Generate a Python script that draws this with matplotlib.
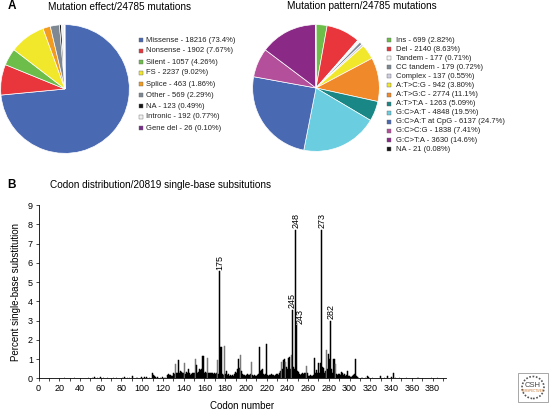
import matplotlib
matplotlib.use("Agg")
import matplotlib.pyplot as plt
from matplotlib.patches import Rectangle, Ellipse

plt.rcParams['font.family'] = ['Liberation Sans', 'DejaVu Sans']

# Panel A, left pie: mutation effect
effect_labels = ["Missense", "Nonsense", "Silent", "FS", "Splice", "Other", "NA", "Intronic", "Gene del"]
effect_counts = [18216, 1902, 1057, 2237, 463, 569, 123, 192, 26]
effect_pcts = ["73.4%", "7.67%", "4.26%", "9.02%", "1.86%", "2.29%", "0.49%", "0.77%", "0.10%"]

# Panel A, right pie: mutation pattern
pattern_labels = ["Ins", "Del", "Tandem", "CC tandem", "Complex", "A:T>C:G", "A:T>G:C", "A:T>T:A",
                  "G:C>A:T", "G:C>A:T at CpG", "G:C>C:G", "G:C>T:A", "NA"]
pattern_counts = [699, 2140, 177, 179, 137, 942, 2774, 1263, 4848, 6137, 1838, 3630, 21]
pattern_pcts = ["2.82%", "8.63%", "0.71%", "0.72%", "0.55%", "3.80%", "11.1%", "5.09%",
                "19.5%", "24.7%", "7.41%", "14.6%", "0.08%"]

# Panel B: percent single-base substitutions per codon
codons = [25, 35, 48, 52, 54, 57, 60, 63, 67, 72, 75, 81, 83, 86, 88, 91, 95, 99, 102, 104,
          107, 110, 111, 112, 113, 115, 118, 120, 122, 124, 125, 126, 127, 128, 129, 130,
          131, 132, 133, 134, 135, 136, 137, 138, 139, 140, 141, 142, 143, 144, 145, 146,
          147, 148, 149, 150, 151, 152, 153, 154, 155, 156, 157, 158, 159, 160, 161, 162,
          163, 164, 165, 166, 167, 168, 169, 170, 171, 172, 173, 174, 175, 176, 177, 178,
          179, 180, 181, 182, 183, 184, 185, 186, 187, 188, 189, 190, 191, 192, 193, 194,
          195, 196, 197, 198, 199, 200, 201, 202, 203, 204, 205, 206, 207, 208, 209, 210,
          211, 212, 213, 214, 215, 216, 217, 218, 219, 220, 221, 222, 223, 224, 225, 226,
          227, 228, 229, 230, 231, 232, 233, 234, 235, 236, 237, 238, 239, 240, 241, 242,
          243, 244, 245, 246, 247, 248, 249, 250, 251, 252, 253, 254, 255, 256, 257, 258,
          259, 260, 261, 262, 263, 264, 265, 266, 267, 268, 269, 270, 271, 272, 273, 274,
          275, 276, 277, 278, 279, 280, 281, 282, 283, 284, 285, 286, 287, 288, 289, 290,
          291, 292, 293, 294, 295, 296, 297, 298, 299, 300, 301, 302, 303, 304, 305, 306,
          307, 308, 309, 312, 315, 317, 318, 322, 330, 334, 337, 340, 342, 344, 348, 355,
          366, 379, 385]
percents = [0.02, 0.02, 0.03, 0.04, 0.08, 0.03, 0.05, 0.03, 0.04, 0.03, 0.04, 0.03, 0.05, 0.03, 0.04, 0.10, 0.03, 0.06, 0.05, 0.07,
            0.04, 0.25, 0.15, 0.12, 0.08, 0.05, 0.03, 0.05, 0.04, 0.15, 0.20, 0.18, 0.15, 0.10, 0.12, 0.25,
            0.20, 0.75, 0.30, 0.25, 0.95, 0.30, 0.40, 0.35, 0.25, 0.30, 0.80, 0.20, 0.35, 0.25, 0.50, 0.30,
            0.15, 0.20, 0.30, 0.25, 1.00, 0.70, 0.30, 0.35, 0.50, 0.45, 0.50, 1.17, 1.17, 0.30, 0.35, 0.25,
            1.04, 0.30, 0.30, 0.25, 0.30, 0.30, 0.20, 0.30, 0.20, 0.25, 0.93, 0.20, 5.55, 1.60, 0.20, 0.15,
            1.70, 0.20, 0.40, 0.15, 0.20, 0.10, 0.15, 0.10, 0.15, 0.10, 0.20, 0.35, 0.30, 0.50, 1.00, 0.55,
            1.20, 0.40, 0.20, 0.15, 0.15, 0.10, 0.15, 0.20, 0.15, 0.20, 0.83, 0.15, 0.10, 0.15, 0.10, 0.10,
            0.15, 0.20, 1.64, 0.40, 0.45, 0.50, 0.20, 0.15, 0.20, 1.76, 0.15, 0.10, 0.15, 0.15, 0.20, 0.15,
            0.15, 0.10, 0.15, 0.20, 0.15, 0.30, 0.40, 0.83, 0.50, 0.95, 1.00, 0.87, 0.60, 0.50, 1.04, 1.12,
            0.50, 1.20, 3.55, 0.60, 0.50, 7.70, 2.75, 0.40, 0.35, 0.20, 0.15, 0.20, 0.28, 0.20, 0.25, 0.65,
            0.25, 0.10, 0.10, 0.15, 0.10, 0.10, 0.15, 1.05, 0.30, 0.45, 0.25, 0.80, 0.30, 0.80, 7.70, 0.60,
            0.55, 0.30, 0.40, 1.45, 0.50, 1.25, 1.00, 3.00, 0.50, 0.30, 1.00, 0.75, 0.20, 0.15, 0.22, 0.20,
            0.15, 0.35, 0.25, 0.15, 0.22, 0.10, 0.15, 0.40, 0.10, 0.10, 0.05, 0.05, 0.10, 0.15, 0.20, 1.00,
            0.10, 0.05, 0.03, 0.02, 0.03, 0.12, 0.05, 0.02, 0.10, 0.03, 0.13, 0.05, 0.30, 0.03, 0.02, 0.02,
            0.02, 0.02, 0.02]
hotspot_codons = [175, 245, 248, 249, 273, 282]
hotspot_labels = ["175", "245", "248", "243", "273", "282"]

effect_colors = ["#4a69b3", "#e8363c", "#6cbd4a", "#f1e82c", "#f39b1f", "#7d8893", "#151515", "#f2f2f2", "#7a2c8c"]
pattern_colors = ["#6cbd4a", "#e8363c", "#f7f7f7", "#7d8893", "#cfcfe3", "#f1e82c", "#f0892a", "#198785",
                  "#6bcde0", "#4a69b3", "#b44f9c", "#8a2a86", "#151515"]
gray_codons = [132, 141, 151, 163, 173, 179, 195, 205, 234, 238, 244, 258, 278, 286]

W, H = 554, 411


def fx(px):
    return px / W


def fy(py):
    return 1 - py / H


fig = plt.figure(figsize=(W / 100, H / 100), dpi=100)


def draw_pie(cx, cy, r, counts, colors):
    ax = fig.add_axes([fx(cx - r), fy(cy + r), 2 * r / W, 2 * r / H])
    ax.pie(counts, colors=colors, startangle=90, counterclock=False,
           wedgeprops=dict(edgecolor="white", linewidth=0.5))
    ax.set_xlim(-1.01, 1.01)
    ax.set_ylim(-1.01, 1.01)
    ax.set_aspect("equal")
    ax.axis("off")
    return ax


def draw_legend(x_box, x_text, y0, dy, labels, counts, pcts, colors):
    for i, (lab, n, p, c) in enumerate(zip(labels, counts, pcts, colors)):
        y = y0 + i * dy
        fig.patches.append(Rectangle((fx(x_box - 2), fy(y + 2)), 4 / W, 4 / H,
                                     transform=fig.transFigure, facecolor=c,
                                     edgecolor="#666666", linewidth=0.3))
        fig.text(fx(x_text), fy(y), f"{lab} - {n} ({p})", fontsize=5.5,
                 va="center", ha="left", color="#222222")


draw_pie(65, 89, 65, effect_counts, effect_colors)
draw_pie(316, 88, 64, pattern_counts, pattern_colors)
draw_legend(141, 145.5, 40, 11, effect_labels, effect_counts, effect_pcts, effect_colors)
draw_legend(389, 395.5, 40, 9.1, pattern_labels, pattern_counts, pattern_pcts, pattern_colors)

fig.text(fx(12), fy(6), "A", fontsize=8.5, fontweight="bold", va="center", ha="center")
fig.text(fx(48), fy(7), "Mutation effect/24785 mutations", fontsize=7.2, va="center", ha="left")
fig.text(fx(287), fy(6), "Mutation pattern/24785 mutations", fontsize=7.2, va="center", ha="left")
fig.text(fx(12), fy(185), "B", fontsize=8.5, fontweight="bold", va="center", ha="center")
fig.text(fx(50), fy(185), "Codon distribution/20819 single-base subsitutions", fontsize=7.2,
         va="center", ha="left")

# Panel B bars
ax = fig.add_axes([fx(38.5), fy(378.3), (446 - 38.5) / W, (378.3 - 205) / H])
bar_colors = ["#7a7a7a" if c in gray_codons else "#000000" for c in codons]
ax.bar(codons, percents, width=1.0, color=bar_colors, edgecolor=bar_colors, linewidth=0.35)
ax.set_xlim(0, 393)
ax.set_ylim(0, 9)
ax.set_xticks(range(0, 381, 20))
ax.set_xticks(range(0, 391, 10), minor=True)
ax.set_yticks(range(0, 10))
for s in ["top", "right"]:
    ax.spines[s].set_visible(False)
for s in ["left", "bottom"]:
    ax.spines[s].set_linewidth(0.6)
ax.tick_params(which="both", direction="out", length=2, width=0.5, labelsize=6.5, pad=2)
ax.set_xlabel("Codon number", fontsize=7, labelpad=6)
ax.set_ylabel("Percent single-base substitution", fontsize=7, labelpad=5)

for c, lab in zip(hotspot_codons, hotspot_labels):
    v = percents[codons.index(c)]
    dx = 3 if lab == "243" else 0
    ax.text(c + dx, v + 0.08, lab, rotation=90, fontsize=6.5, ha="center", va="bottom")

# CSH Perspectives badge
fig.patches.append(Rectangle((fx(518), fy(402)), 30 / W, 29 / H, transform=fig.transFigure,
                             facecolor="white", edgecolor="#999999", linewidth=0.6))
fig.patches.append(Ellipse((fx(533), fy(387.5)), 22 / W, 22 / H, transform=fig.transFigure,
                           facecolor="none", edgecolor="#555555", linewidth=1.2, linestyle=(0, (1, 1))))
fig.text(fx(533), fy(385), "CSH", fontsize=5.5, ha="center", va="center", color="#444444")
fig.text(fx(533), fy(391), "PERSPECTIVES", fontsize=2.2, ha="center", va="center", color="#c8742a")

fig.savefig("out.png", dpi=100)
